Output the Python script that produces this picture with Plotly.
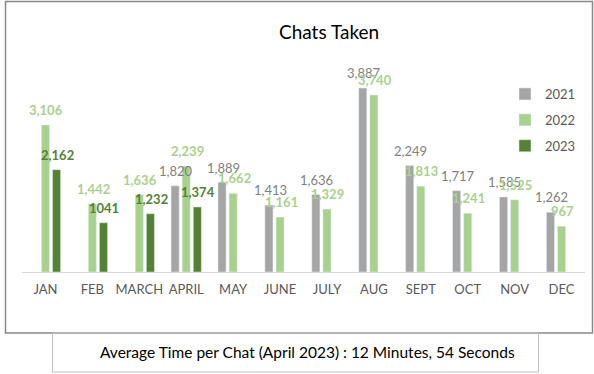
import plotly.graph_objects as go

months = ["JAN", "FEB", "MARCH", "APRIL", "MAY", "JUNE", "JULY", "AUG", "SEPT", "OCT", "NOV", "DEC"]
chats_2021 = [None, None, None, 1820, 1889, 1413, 1636, 3887, 2249, 1717, 1585, 1262]
chats_2022 = [3106, 1442, 1636, 2239, 1662, 1161, 1329, 3740, 1813, 1241, 1525, 967]
chats_2023 = [2162, 1041, 1232, 1374, None, None, None, None, None, None, None, None]
labels_2021 = [None, None, None, "1,820", "1,889", "1,413", "1,636", "3,887", "2,249", "1,717", "1,585", "1,262"]
labels_2022 = ["3,106", "1,442", "1,636", "2,239", "1,662", "1,161", "1,329", "3,740", "1,813", "1,241", "1,525", "967"]
labels_2023 = ["2,162", "1041", "1,232", "1,374", None, None, None, None, None, None, None, None]

C21, C22, C23 = "#A5A5A5", "#A9D18E", "#548235"
FONT = "Lato"

fig = go.Figure()
series = [
    ("2021", chats_2021, labels_2021, C21, "#7F7F7F", False, -11),
    ("2022", chats_2022, labels_2022, C22, C22, True, 0),
    ("2023", chats_2023, labels_2023, C23, C23, True, 11),
]
annotations = []
for name, vals, labs, col, tcol, bold, dx in series:
    fig.add_trace(go.Bar(x=months, y=vals, name=name, marker_color=col,
                         legendgroup=name, hoverinfo="x+y"))
    for m, v, t in zip(months, vals, labs):
        if v is None:
            continue
        annotations.append(dict(
            x=m, y=v, xref="x", yref="y", text=f"<b>{t}</b>" if bold else t,
            showarrow=False, xshift=dx + 1, yshift=15, yanchor="middle",
            font=dict(family=FONT, size=13, color=tcol)))

# Layout helpers: plot area spans px x 22..585, y 59..272
L, R, T, B = 22, 585, 59, 272
def px(x):
    return (x - L) / (R - L)
def py(y):
    return (B - y) / (B - T)

annotations.append(dict(text="Chats Taken", xref="paper", yref="paper",
                        x=px(329), y=py(31), showarrow=False, xanchor="center", yanchor="middle",
                        font=dict(family=FONT, size=19, color="#000000")))
annotations.append(dict(text="Average Time per Chat (April 2023) : 12 Minutes, 54 Seconds",
                        xref="paper", yref="paper", x=px(307), y=py(352), showarrow=False,
                        xanchor="center", yanchor="middle",
                        font=dict(family=FONT, size=15.5, color="#000000")))

shapes = [
    dict(type="rect", xref="paper", yref="paper", x0=px(5.5), x1=px(592.5), y0=py(1.5), y1=py(333),
         line=dict(color="#898989", width=1.5), fillcolor="rgba(0,0,0,0)", layer="below"),
    dict(type="rect", xref="paper", yref="paper", x0=px(52.5), x1=px(538.5), y0=py(333), y1=py(372),
         line=dict(color="#BFBFBF", width=1), fillcolor="rgba(0,0,0,0)", layer="below"),
]

fig.update_layout(
    width=594, height=374,
    margin=dict(l=L, r=594 - R, t=T, b=374 - B, pad=0),
    paper_bgcolor="white", plot_bgcolor="white",
    barmode="group", bargap=0.29, bargroupgap=0.27,
    showlegend=True,
    legend=dict(x=px(505), y=py(79), xanchor="left", yanchor="top",
                font=dict(family=FONT, size=13, color="#595959"),
                tracegroupgap=6, itemwidth=30, bgcolor="rgba(0,0,0,0)"),
    annotations=annotations, shapes=shapes,
    font=dict(family=FONT),
)
fig.update_xaxes(showline=True, linecolor="#D9D9D9", linewidth=1, ticks="",
                 tickfont=dict(family=FONT, size=13, color="#595959"),
                 showgrid=False, ticklabelstandoff=5)
fig.update_yaxes(range=[0, 4500], visible=False, showgrid=False)

fig.write_html("out.html", config={"displayModeBar": False},
               post_script="document.body.style.margin='0';")
